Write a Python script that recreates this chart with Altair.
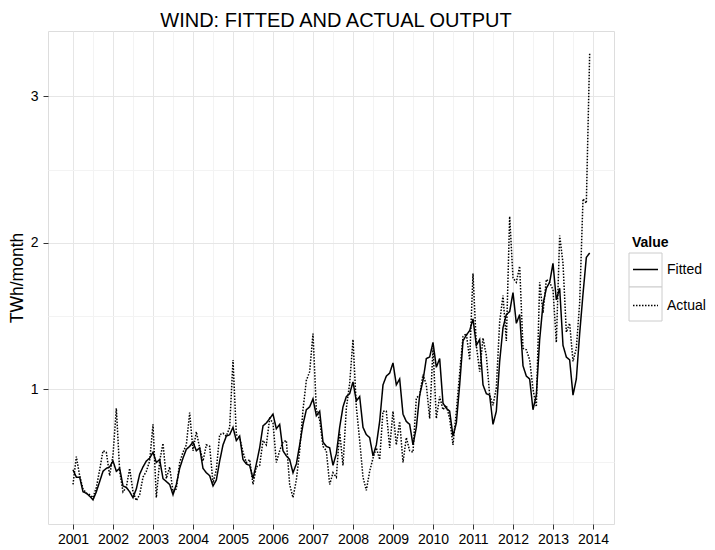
import altair as alt
import pandas as pd

# ---- data (TWh per month, Jan 2001 .. Dec 2013) ----
years = list(range(2001, 2014))
series_names = ["Fitted", "Actual"]
year_ticks = list(range(2001, 2015))
y_ticks = [1, 2, 3]

fitted_values = [
    0.45, 0.40, 0.40, 0.30, 0.29, 0.27, 0.245, 0.30, 0.37, 0.44, 0.46, 0.47,   # 2001
    0.51, 0.44, 0.46, 0.34, 0.33, 0.30, 0.26, 0.32, 0.42, 0.47, 0.51, 0.53,    # 2002
    0.57, 0.50, 0.52, 0.39, 0.37, 0.35, 0.28, 0.35, 0.46, 0.53, 0.59, 0.61,    # 2003
    0.64, 0.58, 0.60, 0.46, 0.43, 0.41, 0.34, 0.38, 0.51, 0.62, 0.68, 0.69,    # 2004
    0.74, 0.65, 0.68, 0.52, 0.49, 0.48, 0.39, 0.49, 0.60, 0.75, 0.77, 0.80,    # 2005
    0.83, 0.73, 0.76, 0.58, 0.545, 0.52, 0.43, 0.49, 0.62, 0.76, 0.86, 0.88,   # 2006
    0.935, 0.82, 0.85, 0.64, 0.61, 0.60, 0.48, 0.56, 0.74, 0.88, 0.95, 0.97,   # 2007
    1.05, 0.92, 0.95, 0.74, 0.69, 0.67, 0.545, 0.62, 0.78, 1.03, 1.09, 1.11,   # 2008
    1.18, 1.03, 1.07, 0.83, 0.78, 0.76, 0.62, 0.74, 0.96, 1.06, 1.21, 1.22,    # 2009
    1.32, 1.15, 1.21, 0.905, 0.87, 0.85, 0.68, 0.77, 1.03, 1.33, 1.37, 1.40,   # 2010
    1.48, 1.30, 1.34, 1.03, 0.97, 0.96, 0.76, 0.85, 1.19, 1.42, 1.51, 1.53,    # 2011
    1.66, 1.45, 1.51, 1.16, 1.09, 1.07, 0.86, 0.96, 1.34, 1.58, 1.69, 1.73,    # 2012
    1.86, 1.61, 1.69, 1.30, 1.22, 1.20, 0.96, 1.07, 1.38, 1.65, 1.90, 1.93,    # 2013
]

actual_values = [
    0.35, 0.54, 0.41, 0.32, 0.29, 0.28, 0.26, 0.33, 0.45, 0.58, 0.57, 0.41,    # 2001
    0.55, 0.87, 0.44, 0.30, 0.33, 0.46, 0.30, 0.24, 0.28, 0.40, 0.44, 0.51,    # 2002
    0.76, 0.26, 0.51, 0.63, 0.39, 0.47, 0.30, 0.32, 0.50, 0.57, 0.62, 0.84,    # 2003
    0.58, 0.71, 0.60, 0.51, 0.62, 0.61, 0.36, 0.45, 0.69, 0.70, 0.68, 0.74,    # 2004
    1.20, 0.69, 0.67, 0.57, 0.50, 0.52, 0.35, 0.47, 0.48, 0.65, 0.62, 0.80,    # 2005
    0.77, 0.50, 0.58, 0.64, 0.65, 0.35, 0.26, 0.38, 0.58, 0.86, 1.06, 1.12,    # 2006
    1.38, 0.86, 0.79, 0.61, 0.58, 0.35, 0.43, 0.40, 0.71, 0.48, 0.87, 1.04,    # 2007
    1.34, 0.88, 0.65, 0.40, 0.31, 0.44, 0.53, 0.60, 0.52, 0.85, 0.85, 0.60,    # 2008
    0.85, 0.62, 0.78, 0.50, 0.67, 0.58, 0.57, 0.94, 0.96, 1.10, 1.03, 0.80,    # 2009
    1.28, 0.80, 0.95, 0.86, 0.89, 0.80, 0.62, 0.85, 1.11, 1.36, 1.38, 1.20,    # 2010
    1.79, 1.30, 1.12, 1.35, 1.23, 0.96, 0.89, 1.01, 1.46, 1.64, 1.33, 2.18,    # 2011
    1.76, 1.73, 1.84, 1.28, 1.27, 1.20, 1.00, 0.88, 1.73, 1.52, 1.75, 1.73,    # 2012
    1.68, 1.32, 2.05, 1.86, 1.39, 1.45, 1.19, 1.28, 1.59, 2.30, 2.27, 3.29,    # 2013
]

# ---- table ----
month_pos = [y + (m - 1) / 12 for y in years for m in range(1, 13)]
df = pd.DataFrame({
    "t": month_pos * 2,
    "value": fitted_values + actual_values,
    "series": [series_names[0]] * len(fitted_values) + [series_names[1]] * len(actual_values),
})

FONT = "Liberation Sans"
x_vals = sorted(set(year_ticks + [y + 0.5 for y in year_ticks[:-1]]))
y_vals = sorted(set(y_ticks + [v - 0.5 for v in y_ticks]))
minor_test = "datum.value % 1 !== 0"

x_axis = alt.Axis(
    values=x_vals,
    labelExpr="datum.value % 1 === 0 ? format(datum.value, 'd') : ''",
    title="",
    domain=False,
    grid=True,
    gridColor={"condition": {"test": minor_test, "value": "#f3f3f3"}, "value": "#e6e6e6"},
    gridWidth=1,
    tickOpacity={"condition": {"test": minor_test, "value": 0}, "value": 1},
    tickSize=5,
    tickColor="#333333",
    labelFontSize=14,
    labelFont=FONT,
    labelColor="black",
    labelPadding=3,
    labelOverlap=False,
    labelFlush=False,
)

y_axis = alt.Axis(
    values=y_vals,
    labelExpr="datum.value % 1 === 0 ? format(datum.value, 'd') : ''",
    title="TWh/month",
    titleFont=FONT,
    titleFontSize=17.5,
    titleFontWeight="normal",
    titleColor="black",
    titlePadding=4,
    domain=False,
    grid=True,
    gridColor={"condition": {"test": minor_test, "value": "#f3f3f3"}, "value": "#e6e6e6"},
    gridWidth=1,
    tickOpacity={"condition": {"test": minor_test, "value": 0}, "value": 1},
    tickSize=5,
    tickColor="#333333",
    labelFontSize=14,
    labelFont=FONT,
    labelColor="black",
    labelPadding=5,
    labelOverlap=False,
    labelFlush=False,
)

legend = alt.Legend(
    orient="none",
    legendX=584,
    legendY=205,
    title="Value",
    titleFont=FONT,
    titleFontSize=14,
    titleFontWeight="bold",
    titleColor="black",
    titlePadding=6,
    labelFont=FONT,
    labelFontSize=14,
    labelColor="black",
    labelOffset=8,
    symbolType="stroke",
    symbolSize=625,
    symbolStrokeWidth=1.5,
    symbolStrokeColor="black",
    rowPadding=15,
    padding=0,
)

lines = alt.Chart(df).mark_line(color="black", strokeWidth=1.5).encode(
    x=alt.X("t:Q", scale=alt.Scale(domain=[2000.375, 2014.525], nice=False, zero=False), axis=x_axis),
    y=alt.Y("value:Q", scale=alt.Scale(domain=[0.08, 3.446], nice=False, zero=False), axis=y_axis),
    strokeDash=alt.StrokeDash(
        "series:N",
        scale=alt.Scale(domain=series_names, range=[[1, 0], [1.5, 1.5]]),
        legend=legend,
    ),
)

box_top = alt.Chart(alt.Data(values=[{"k": 1}])).mark_rect(
    fill="white", stroke="#cccccc", strokeWidth=1
).encode(x=alt.value(581), x2=alt.value(614), y=alt.value(222), y2=alt.value(256))

box_bottom = alt.Chart(alt.Data(values=[{"k": 1}])).mark_rect(
    fill="white", stroke="#cccccc", strokeWidth=1
).encode(x=alt.value(581), x2=alt.value(614), y=alt.value(256), y2=alt.value(290))

chart = alt.layer(box_top, box_bottom, lines).properties(
    width=566,
    height=493,
    title=alt.TitleParams(
        "WIND: FITTED AND ACTUAL OUTPUT",
        font=FONT,
        fontSize=20,
        fontWeight="normal",
        color="black",
        anchor="middle",
        offset=0,
        dx=5,
    ),
    autosize=alt.AutoSizeParams(type="none"),
    padding={"left": 40, "top": 23, "right": 93, "bottom": 24},
).configure_view(
    stroke="#7f7f7f", strokeWidth=1, fill="white"
).configure(background="white")

chart.save("out.html", embed_options={"renderer": "svg", "actions": False})
